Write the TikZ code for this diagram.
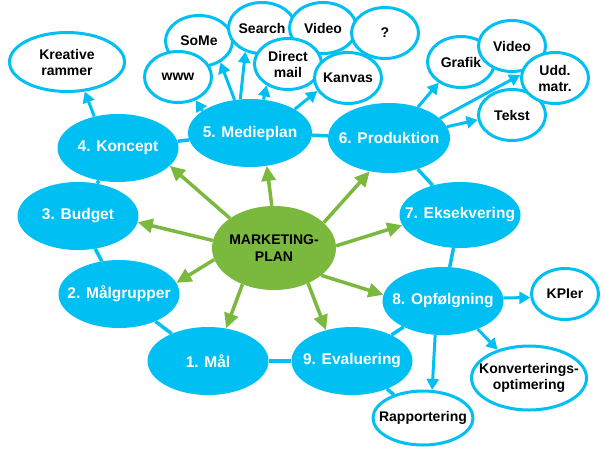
\documentclass[tikz,border=0pt]{standalone}
\usepackage{fontspec}
\setmainfont{Liberation Sans}
\usetikzlibrary{shapes.geometric,arrows.meta}
\definecolor{planblue}{RGB}{0,191,242}
\definecolor{plangreen}{RGB}{122,184,62}

\begin{document}
\begin{tikzpicture}[x=1pt,y=-1pt,
	phase/.style={ellipse,fill=planblue,text=white,inner xsep=-18pt,inner ysep=0pt,minimum width=121pt,minimum height=68pt,font=\fontsize{15.5}{17}\selectfont\bfseries},
	item/.style={ellipse,draw=planblue,line width=3pt,fill=white,text=black,align=center,inner xsep=-12pt,inner ysep=0pt,minimum width=67pt,minimum height=51pt,font=\fontsize{14}{16}\selectfont\bfseries},
	ring/.style={planblue,line width=3.5pt},
	sub/.style={planblue,line width=3pt,-{Triangle[length=11pt,width=12pt]}},
	spoke/.style={plangreen,line width=3.5pt,-{Triangle[length=15pt,width=14pt]}}]
\useasboundingbox (0,0) rectangle (604,455);

% media items
\node[item] (some) at (199,41) {SoMe};
\node[item] (search) at (262,28) {Search};
\node[item] (video) at (323,28) {Video};
\node[item] (quest) at (385,33) {?};
\node[item] (www) at (178,77) {www};
\node[item] (direct) at (288,64) {Direct\\mail};
\node[item] (kanvas) at (348,78) {Kanvas};
% production items
\node[item] (grafik) at (461,62) {Grafik};
\node[item] (video2) at (512,46) {Video};
\node[item] (tekst) at (512,115) {Tekst};
\node[item] (udd) at (555,78) {Udd.\\matr.};
% other items
\node[item,minimum width=115pt,minimum height=59pt] (kreativ) at (67,62) {Kreative\\rammer};
\node[item] (kpi) at (565,294) {KPIer};
\node[item,minimum width=115pt,minimum height=64pt] (konv) at (529,378) {Konverterings-\\optimering};
\node[item,minimum width=100pt,minimum height=54pt] (rapp) at (423,418) {Rapportering};

% phases
\node[phase] (koncept) at (118,148) {4. Koncept};
\node[phase,minimum width=124pt] (medie) at (250,133) {5. Medieplan};
\node[phase] (budget) at (78,216) {3. Budget};
\node[phase] (maalgr) at (119,294) {2. Målgrupper};
\node[phase] (maal) at (208,361) {1. Mål};
\node[phase] (eval) at (352,361) {9. Evaluering};
\node[phase] (opf) at (443,301) {8. Opfølgning};
\node[phase,minimum height=66pt] (eks) at (460,215) {7. Eksekvering};
\node[phase,minimum width=122pt,minimum height=70pt] (prod) at (389,138) {6. Produktion};
\node[ellipse,fill=plangreen,text=black,align=center,inner xsep=-4pt,minimum width=124pt,minimum height=84pt,font=\fontsize{14}{17}\selectfont\bfseries] (plan) at (274,248) {MARKETING-\\PLAN};

% ring
\draw[ring] (koncept) -- (budget);
\draw[ring] (budget) -- (maalgr);
\draw[ring] (maalgr) -- (maal);
\draw[ring] (maal) -- (eval);
\draw[ring] (eval) -- (opf);
\draw[ring] (opf) -- (eks);
\draw[ring] (eks) -- (prod);
\draw[ring] (prod) -- (medie);
\draw[ring] (medie) -- (koncept);
\draw[ring] (eval) -- (rapp);

% sub arrows
\draw[sub] (koncept.127) -- (kreativ.-59);
\draw[sub] (medie.155) -- (www.-53);
\draw[sub] (medie.115) -- (some.-45);
\draw[sub] (medie.106) -- (search.235);
\draw[sub] (medie.68) -- (direct.225);
\draw[sub] (medie.28) -- (kanvas.203);
\draw[sub] (prod.47) -- (grafik.223);
\draw[sub] (prod.21) -- (udd.175);
\draw[sub] (prod.11) -- (tekst.188);
\draw[sub] (opf.3) -- (kpi.186);
\draw[sub] (opf.-39) -- (konv.138);
\draw[sub] (opf.257) -- (rapp.72);

% spokes
\draw[spoke] (plan.146) -- (koncept.-19);
\draw[spoke] (plan.93) -- (medie.-63);
\draw[spoke] (plan.27) -- (prod.240);
\draw[spoke] (plan.2) -- (eks.190);
\draw[spoke] (plan.-30) -- (opf.174);
\draw[spoke] (plan.-46) -- (eval.130);
\draw[spoke] (plan.229) -- (maal.61);
\draw[spoke] (plan.191) -- (maalgr.11);
\draw[spoke] (plan.173) -- (budget.-6);
\end{tikzpicture}
\end{document}
